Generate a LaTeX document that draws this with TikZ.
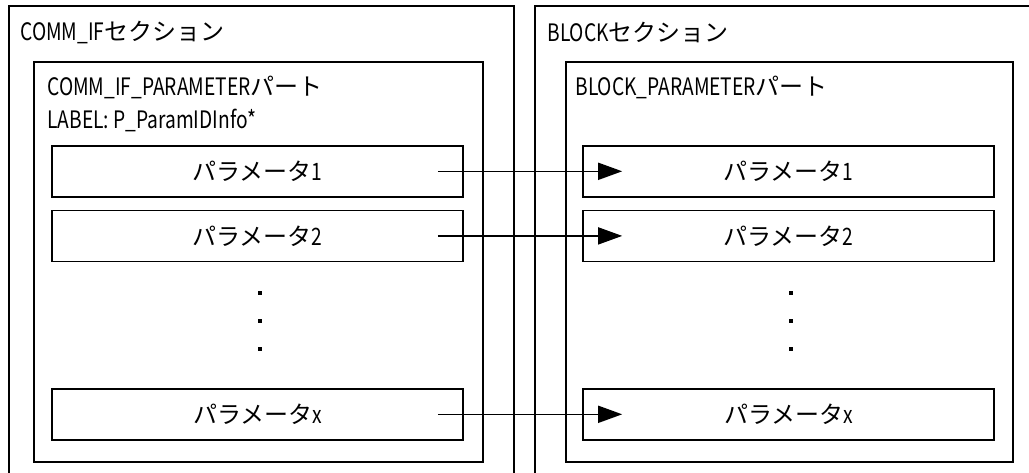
\documentclass[tikz,border=0pt]{standalone}
\usepackage{fontspec}
\setmainfont{Noto Sans CJK JP}
\newfontfamily\hw[FakeStretch=0.8]{Noto Sans CJK JP}
\usetikzlibrary{arrows.meta,positioning,calc}

\begin{document}
\begin{tikzpicture}[
  x=0.5pt, y=-0.5pt,
  font=\fontsize{12}{14}\selectfont,
  >={Triangle[length=12pt, width=8.5pt]},
  frame/.style={draw, line width=0.8pt, inner sep=0pt, anchor=north west},
  sect/.style={frame, minimum width=258pt, minimum height=245pt},
  part/.style={frame, minimum width=224pt, minimum height=200pt},
  param/.style={frame, anchor=north, minimum width=205.5pt, minimum height=25.5pt},
  title/.style={anchor=west, inner sep=0pt},
  dot/.style={fill, inner sep=0pt, minimum size=2.2pt},
  flow/.style={->, line width=0.8pt},
]
  \useasboundingbox (0,0) rectangle (1029,472);
  \clip (0,0) rectangle (1029,472);

  % ---------------- sections ----------------
  \node[sect, minimum width=252.5pt] (commsec) at (8,5) {};
  \node[sect] (blocksec) at (534,5) {};
  \node[title] (commtitle) at (20,32) {{\hw COMM\_IF}セクション};
  \node[title] (blocktitle) at (547,32) {{\hw BLOCK}セクション};

  % ---------------- parts ----------------
  \node[part, minimum width=224.5pt] (commpart) at (33,61) {};
  \node[part, minimum width=223.5pt] (blockpart) at (565,61) {};
  \node[title] (commname) at (47,87) {{\hw COMM\_IF\_PARAMETER}パート};
  \node[title] (commlabel) at (47,120) {\hw LABEL: P\_ParamIDInfo*};
  \node[title] (blockname) at (575,87) {{\hw BLOCK\_PARAMETER}パート};

  % ---------------- parameters ----------------
  \node[param] (p1L) at (257.5,145) {パラメータ{\hw 1}};
  \node[param, below=6pt of p1L] (p2L) {パラメータ{\hw 2}};
  \node[param] (pxL) at (257.5,388) {パラメータ{\hw x}};
  \node[param] (p1R) at (788.5,145) {パラメータ{\hw 1}};
  \node[param, below=6pt of p1R] (p2R) {パラメータ{\hw 2}};
  \node[param] (pxR) at (788.5,388) {パラメータ{\hw x}};

  \foreach \y [count=\i] in {293,321,349} {
    \node[dot] (dotL\i) at (260,\y) {};
    \node[dot] (dotR\i) at (791,\y) {};
  }

  % ---------------- mapping ----------------
  \foreach \p in {1,2,x}
    \draw[flow] ($(p\p L.east)+(-26,0)$) -- ($(p\p R.west)+(40,0)$);
\end{tikzpicture}
\end{document}
